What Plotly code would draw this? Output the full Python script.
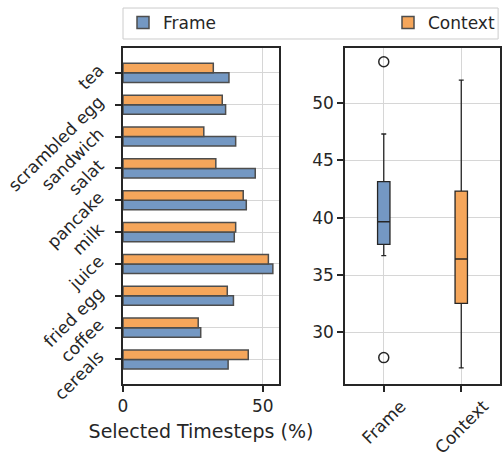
import numpy as np
import plotly.graph_objects as go

# ---- data ----
categories = ["cereals", "coffee", "fried egg", "juice", "milk",
              "pancake", "salat", "sandwich", "scrambled egg", "tea"]
frame_vals = [37.6, 27.8, 39.5, 53.6, 39.8, 44.1, 47.3, 40.3, 36.7, 37.9]
context_vals = [44.8, 26.9, 37.3, 52.0, 40.3, 43.0, 33.2, 28.9, 35.5, 32.3]
series_names = ["Frame", "Context"]
bar_ticks = [0, 50]
box_ticks = [30, 35, 40, 45, 50]

BLUE = "#7498c3"
ORANGE = "#f5a65b"
EDGE = "#4d4d4d"
DARK = "#262626"
GRID = "#d6d6d6"
FONT = "DejaVu Sans"

fig = go.Figure()

# ---- left: grouped horizontal bars ----
fig.add_trace(go.Bar(
    y=categories, x=frame_vals, orientation="h", name=series_names[0],
    marker=dict(color=BLUE, line=dict(color=EDGE, width=1.5)),
    xaxis="x", yaxis="y", legend="legend"))
fig.add_trace(go.Bar(
    y=categories, x=context_vals, orientation="h", name=series_names[1],
    marker=dict(color=ORANGE, line=dict(color=EDGE, width=1.5)),
    xaxis="x", yaxis="y", legend="legend2"))

# ---- right: box plots (matplotlib-style stats) ----
def box_stats(vals):
    a = np.sort(np.asarray(vals, dtype=float))
    q1, med, q3 = np.percentile(a, [25, 50, 75])
    iqr = q3 - q1
    lo_lim, hi_lim = q1 - 1.5 * iqr, q3 + 1.5 * iqr
    inside = a[(a >= lo_lim) & (a <= hi_lim)]
    outl = a[(a < lo_lim) | (a > hi_lim)]
    return q1, med, q3, inside.min(), inside.max(), outl

for name, vals, col in [(series_names[0], frame_vals, BLUE),
                        (series_names[1], context_vals, ORANGE)]:
    q1, med, q3, lf, uf, outl = box_stats(vals)
    fig.add_trace(go.Box(
        x=[name], q1=[q1], median=[med], q3=[q3],
        lowerfence=[lf], upperfence=[uf],
        width=0.16, whiskerwidth=0.4, boxpoints=False,
        fillcolor=col, line=dict(color=DARK, width=1.3),
        showlegend=False, xaxis="x2", yaxis="y2"))
    if len(outl):
        fig.add_trace(go.Scatter(
            x=[name] * len(outl), y=list(outl), mode="markers",
            marker=dict(symbol="circle-open", size=10,
                        color=DARK, line=dict(width=1.5, color=DARK)),
            showlegend=False, xaxis="x2", yaxis="y2"))

axis_common = dict(
    showline=True, linecolor=DARK, linewidth=1.5, mirror=True,
    ticks="outside", ticklen=6, tickwidth=1.5, tickcolor=DARK,
    showgrid=True, gridcolor=GRID, gridwidth=1, zeroline=False,
    automargin=False,
    tickfont=dict(family=FONT, size=17, color=DARK),
)

# rotated, centred box category labels (matplotlib style)
annotations = []
for s in series_names:
    annotations.append(dict(
        text=s, xref="x2", x=s, xanchor="center",
        yref="paper", y=0, yanchor="top", yshift=-9, textangle=-45,
        showarrow=False, font=dict(family=FONT, size=17, color=DARK)))

fig.update_layout(
    width=502, height=456,
    margin=dict(l=123, r=2, t=48, b=72, autoexpand=False),
    paper_bgcolor="white", plot_bgcolor="white",
    font=dict(family=FONT, size=17, color=DARK),
    barmode="group", bargap=0.4, bargroupgap=0.0,
    xaxis=dict(domain=[0, 0.4138], range=[0, 55.8],
               tickvals=bar_ticks, anchor="y",
               title=dict(text="Selected Timesteps (%)",
                          font=dict(family=FONT, size=19, color=DARK),
                          standoff=10),
               **axis_common),
    yaxis=dict(domain=[0, 1], range=[-0.77, 9.78], anchor="x",
               categoryorder="array", categoryarray=categories,
               tickangle=-45, ticklabelstandoff=13, ticklabelshift=-5,
               **axis_common),
    xaxis2=dict(domain=[0.5889, 1.0], range=[-0.5, 1.5], anchor="y2",
                type="category", categoryorder="array",
                categoryarray=series_names, showticklabels=False,
                **axis_common),
    yaxis2=dict(domain=[0, 1], range=[25.5, 54.8], anchor="x2",
                tickvals=box_ticks, **axis_common),
    legend=dict(orientation="h", x=0.0, xanchor="left",
                y=1.0744, yanchor="middle",
                font=dict(family=FONT, size=17, color=DARK),
                bgcolor="rgba(0,0,0,0)", borderwidth=0),
    legend2=dict(orientation="h", x=1.0, xanchor="right",
                 y=1.0744, yanchor="middle",
                 font=dict(family=FONT, size=17, color=DARK),
                 bgcolor="rgba(0,0,0,0)", borderwidth=0),
    annotations=annotations,
    shapes=[dict(type="rect", xref="paper", yref="paper",
                 x0=0.0, x1=0.995, y0=1.0268, y1=1.119,
                 line=dict(color="#cccccc", width=1),
                 fillcolor="rgba(0,0,0,0)", layer="below")],
)

fig.write_html("out.html",
               config={"displayModeBar": False},
               post_script="document.body.style.margin='0';"
                           "document.body.style.padding='0';")
